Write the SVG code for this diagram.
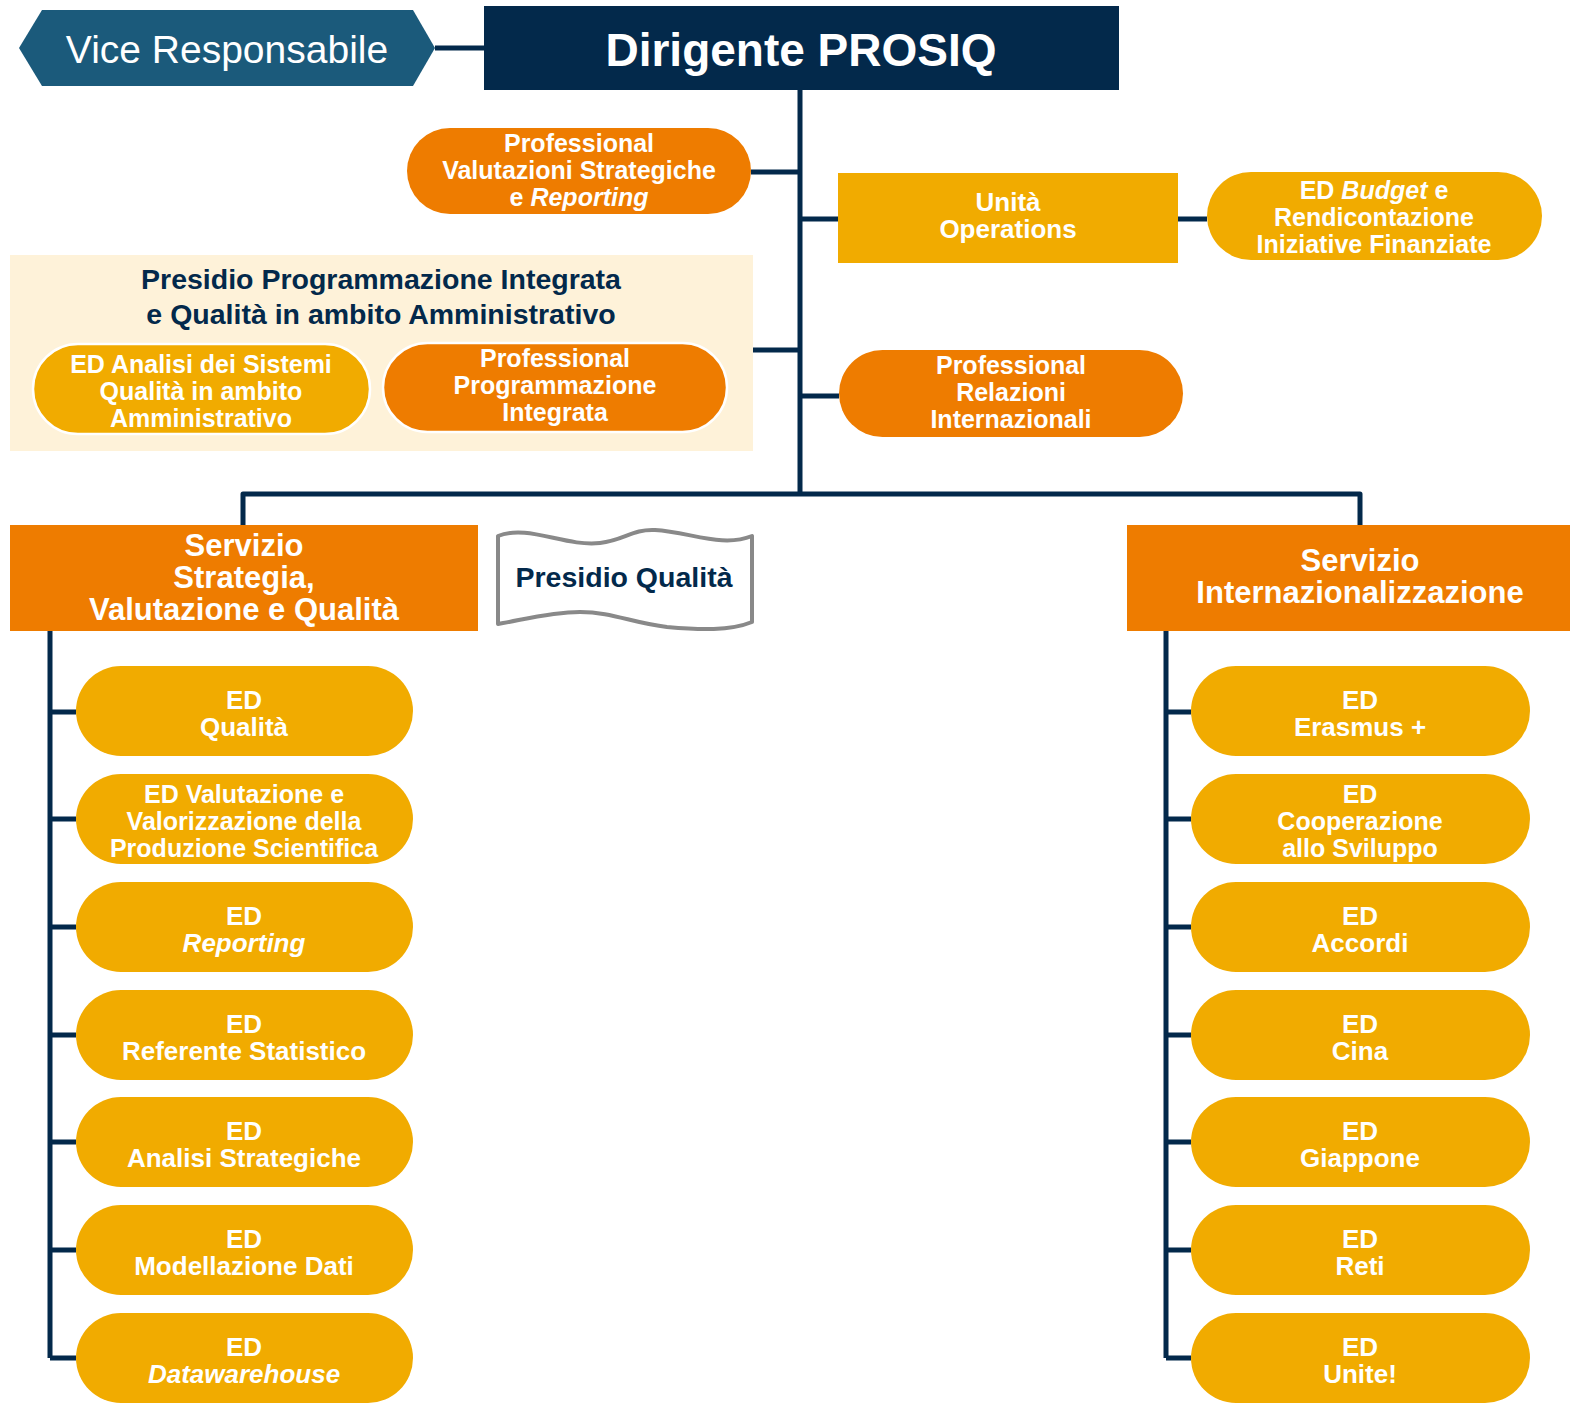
<svg xmlns="http://www.w3.org/2000/svg" width="1570" height="1404" viewBox="0 0 1570 1404">
<defs>
<style>
.t{font-family:"Liberation Sans",Arial,sans-serif;font-weight:bold;fill:#fff;text-anchor:middle}
.p{font-size:26px}
.q{font-size:25px}
.n{fill:#03294b}
.or{fill:#ee7c00}
.go{fill:#f1ab00}
.ln{stroke:#03294b;stroke-width:5;fill:none;stroke-linejoin:round}
</style>
</defs>
<rect width="1570" height="1404" fill="#fff"/>
<g id="connectors">
<path class="ln" d="M435,48H484"/>
<path class="ln" d="M800,90V494"/>
<path class="ln" d="M751,172H800"/>
<path class="ln" d="M800,219H838"/>
<path class="ln" d="M1178,219H1207"/>
<path class="ln" d="M753,350H800"/>
<path class="ln" d="M800,396H839"/>
<path class="ln" d="M243,525V494H1360V525"/>
<path class="ln" d="M50,631V1358M50,712H76M50,819H76M50,927H76M50,1035H76M50,1142H76M50,1250H76M50,1358H76"/>
<path class="ln" d="M1166,631V1358M1166,712H1191M1166,819H1191M1166,927H1191M1166,1035H1191M1166,1142H1191M1166,1250H1191M1166,1358H1191"/>
</g>
<g id="vice">
<polygon points="19,48 42,10 413,10 435,48 413,86 42,86" fill="#1b5a7b"/>
<text class="t" x="227" y="63" style="font-weight:normal;font-size:39px">Vice Responsabile</text>
</g>
<g id="dirigente">
<rect x="484" y="6" width="635" height="84" fill="#03294b"/>
<text class="t" x="801" y="66" style="font-size:46px">Dirigente PROSIQ</text>
</g>
<g id="prof-valutazioni">
<rect class="or" x="407" y="128" width="344" height="86" rx="43"/>
<text class="t q" x="579"><tspan x="579" y="152">Professional</tspan><tspan x="579" y="179">Valutazioni Strategiche</tspan><tspan x="579" y="206">e <tspan font-style="italic">Reporting</tspan></tspan></text>
</g>
<g id="unita-operations">
<rect class="go" x="838" y="173" width="340" height="90"/>
<text class="t p" x="1008"><tspan x="1008" y="211">Unità</tspan><tspan x="1008" y="238">Operations</tspan></text>
</g>
<g id="ed-budget">
<rect class="go" x="1207" y="172" width="335" height="88" rx="44"/>
<text class="t q" x="1374"><tspan x="1374" y="199">ED <tspan font-style="italic">Budget</tspan> e</tspan><tspan x="1374" y="226">Rendicontazione</tspan><tspan x="1374" y="253">Iniziative Finanziate</tspan></text>
</g>
<g id="presidio-programmazione">
<rect x="10" y="255" width="743" height="196" fill="#fef2d9"/>
<text class="t n" x="381" style="font-size:28.5px"><tspan x="381" y="289">Presidio Programmazione Integrata</tspan><tspan x="381" y="324">e Qualità in ambito Amministrativo</tspan></text>
</g>
<g id="ed-analisi-sistemi">
<rect class="go" x="33" y="344" width="337" height="90" rx="45" stroke="#fff" stroke-width="2.5"/>
<text class="t q" x="201"><tspan x="201" y="373">ED Analisi dei Sistemi</tspan><tspan x="201" y="400">Qualità in ambito</tspan><tspan x="201" y="427">Amministrativo</tspan></text>
</g>
<g id="prof-programmazione">
<rect class="or" x="383" y="343" width="344" height="89" rx="44.5" stroke="#fff" stroke-width="2.5"/>
<text class="t q" x="555"><tspan x="555" y="367">Professional</tspan><tspan x="555" y="394">Programmazione</tspan><tspan x="555" y="421">Integrata</tspan></text>
</g>
<g id="prof-relazioni">
<rect class="or" x="839" y="350" width="344" height="87" rx="43.5"/>
<text class="t q" x="1011"><tspan x="1011" y="374">Professional</tspan><tspan x="1011" y="401">Relazioni</tspan><tspan x="1011" y="428">Internazionali</tspan></text>
</g>
<g id="servizio-strategia">
<rect class="or" x="10" y="525" width="468" height="106"/>
<text class="t" x="244" style="font-size:31px"><tspan x="244" y="556">Servizio</tspan><tspan x="244" y="588">Strategia,</tspan><tspan x="244" y="620">Valutazione e Qualità</tspan></text>
</g>
<g id="presidio-qualita">
<path d="M498,536 C528,524 565,547 600,543 C625,540 632,529 655,530 C690,532 722,548 752,536 L752,622 C730,631 700,630 667,627 C632,623 612,612 580,612 C550,612 522,620 498,624 Z" fill="#fff" stroke="#898989" stroke-width="4" stroke-linejoin="round"/>
<text class="t n" x="624" y="587" style="font-size:28.5px">Presidio Qualità</text>
</g>
<g id="servizio-internazionalizzazione">
<rect class="or" x="1127" y="525" width="443" height="106"/>
<text class="t" x="1360" style="font-size:31px"><tspan x="1360" y="571">Servizio</tspan><tspan x="1360" y="603">Internazionalizzazione</tspan></text>
</g>
<g id="ed-qualita">
<rect class="go" x="76" y="666" width="337" height="90" rx="45"/>
<text class="t p" x="244"><tspan x="244" y="709">ED</tspan><tspan x="244" y="736">Qualità</tspan></text>
</g>
<g id="ed-valutazione">
<rect class="go" x="76" y="774" width="337" height="90" rx="45"/>
<text class="t q" x="244"><tspan x="244" y="803">ED Valutazione e</tspan><tspan x="244" y="830">Valorizzazione della</tspan><tspan x="244" y="857">Produzione Scientifica</tspan></text>
</g>
<g id="ed-reporting">
<rect class="go" x="76" y="882" width="337" height="90" rx="45"/>
<text class="t p" x="244"><tspan x="244" y="925">ED</tspan><tspan x="244" y="952" font-style="italic">Reporting</tspan></text>
</g>
<g id="ed-referente">
<rect class="go" x="76" y="990" width="337" height="90" rx="45"/>
<text class="t p" x="244"><tspan x="244" y="1033">ED</tspan><tspan x="244" y="1060">Referente Statistico</tspan></text>
</g>
<g id="ed-analisi-strategiche">
<rect class="go" x="76" y="1097" width="337" height="90" rx="45"/>
<text class="t p" x="244"><tspan x="244" y="1140">ED</tspan><tspan x="244" y="1167">Analisi Strategiche</tspan></text>
</g>
<g id="ed-modellazione">
<rect class="go" x="76" y="1205" width="337" height="90" rx="45"/>
<text class="t p" x="244"><tspan x="244" y="1248">ED</tspan><tspan x="244" y="1275">Modellazione Dati</tspan></text>
</g>
<g id="ed-datawarehouse">
<rect class="go" x="76" y="1313" width="337" height="90" rx="45"/>
<text class="t p" x="244"><tspan x="244" y="1356">ED</tspan><tspan x="244" y="1383" font-style="italic">Datawarehouse</tspan></text>
</g>
<g id="ed-erasmus">
<rect class="go" x="1191" y="666" width="339" height="90" rx="45"/>
<text class="t p" x="1360"><tspan x="1360" y="709">ED</tspan><tspan x="1360" y="736">Erasmus +</tspan></text>
</g>
<g id="ed-cooperazione">
<rect class="go" x="1191" y="774" width="339" height="90" rx="45"/>
<text class="t q" x="1360"><tspan x="1360" y="803">ED</tspan><tspan x="1360" y="830">Cooperazione</tspan><tspan x="1360" y="857">allo Sviluppo</tspan></text>
</g>
<g id="ed-accordi">
<rect class="go" x="1191" y="882" width="339" height="90" rx="45"/>
<text class="t p" x="1360"><tspan x="1360" y="925">ED</tspan><tspan x="1360" y="952">Accordi</tspan></text>
</g>
<g id="ed-cina">
<rect class="go" x="1191" y="990" width="339" height="90" rx="45"/>
<text class="t p" x="1360"><tspan x="1360" y="1033">ED</tspan><tspan x="1360" y="1060">Cina</tspan></text>
</g>
<g id="ed-giappone">
<rect class="go" x="1191" y="1097" width="339" height="90" rx="45"/>
<text class="t p" x="1360"><tspan x="1360" y="1140">ED</tspan><tspan x="1360" y="1167">Giappone</tspan></text>
</g>
<g id="ed-reti">
<rect class="go" x="1191" y="1205" width="339" height="90" rx="45"/>
<text class="t p" x="1360"><tspan x="1360" y="1248">ED</tspan><tspan x="1360" y="1275">Reti</tspan></text>
</g>
<g id="ed-unite">
<rect class="go" x="1191" y="1313" width="339" height="90" rx="45"/>
<text class="t p" x="1360"><tspan x="1360" y="1356">ED</tspan><tspan x="1360" y="1383">Unite!</tspan></text>
</g>
</svg>
